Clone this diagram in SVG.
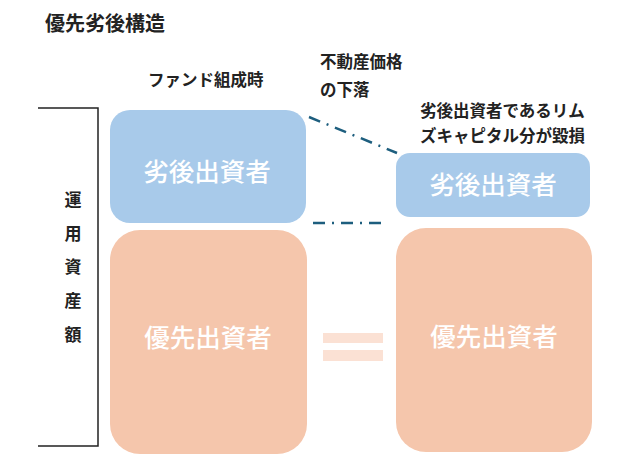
<svg xmlns="http://www.w3.org/2000/svg" width="641" height="462" viewBox="0 0 641 462">
<style>
.lbl{font-family:"Noto Sans CJK JP","Noto Sans CJK SC",sans-serif;fill:#222;font-weight:bold}
.box{font-family:"Noto Sans CJK JP","Noto Sans CJK SC",sans-serif;fill:#fff;font-size:25.5px;font-weight:500;text-anchor:middle}
.blue{fill:#a8caea}
.orange{fill:#f5c6ac}
.eq{fill:#fbe1d4}
.dd{stroke:#1d5e7e;stroke-width:2.5;fill:none;stroke-dasharray:12 7 2 7}
.axis{stroke:#222;stroke-width:1.5;fill:none}
</style>
<rect width="641" height="462" fill="#fff"/>
<text class="lbl" x="45" y="31" font-size="20">優先劣後構造</text>
<text class="lbl" x="148" y="86" font-size="16.5">ファンド組成時</text>
<text class="lbl" x="320" y="68" font-size="16.5">不動産価格</text>
<text class="lbl" x="320" y="96" font-size="16.5">の下落</text>
<text class="lbl" x="420" y="117" font-size="16.5">劣後出資者であるリム</text>
<text class="lbl" x="420" y="142" font-size="16.5">ズキャピタル分が毀損</text>
<g id="axis">
<polyline class="axis" points="38,108 98,108 98,446 38,446"/>
<text class="lbl" font-size="17" text-anchor="middle"><tspan x="73" y="206">運</tspan><tspan x="73" y="240">用</tspan><tspan x="73" y="273">資</tspan><tspan x="73" y="307">産</tspan><tspan x="73" y="341">額</tspan></text>
</g>
<g id="left-sub">
<rect class="blue" x="110" y="110" width="196" height="113" rx="20"/>
<text class="box" x="207" y="181">劣後出資者</text>
</g>
<g id="left-senior">
<rect class="orange" x="110" y="230" width="197" height="224" rx="30"/>
<text class="box" x="208" y="347">優先出資者</text>
</g>
<g id="right-sub">
<rect class="blue" x="396" y="153" width="194" height="64" rx="14"/>
<text class="box" x="493" y="194">劣後出資者</text>
</g>
<g id="right-senior">
<rect class="orange" x="396" y="228" width="196" height="224" rx="30"/>
<text class="box" x="494" y="346">優先出資者</text>
</g>
<g id="equals">
<rect class="eq" x="323" y="333" width="60" height="10"/>
<rect class="eq" x="323" y="350" width="60" height="11"/>
</g>
<g id="connectors">
<line class="dd" x1="309" y1="117" x2="397" y2="153"/>
<line class="dd" x1="313" y1="223" x2="388" y2="223"/>
</g>
</svg>
